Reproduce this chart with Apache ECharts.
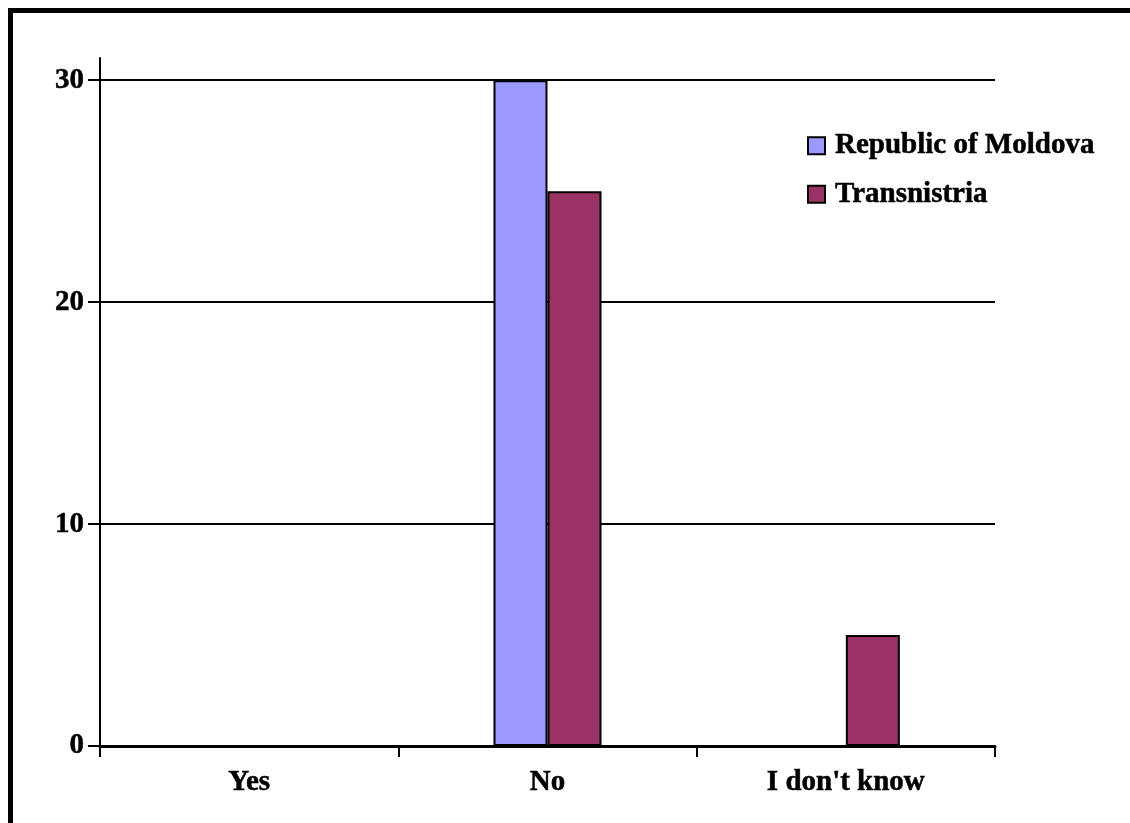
<!DOCTYPE html>
<html>
<head>
<meta charset="utf-8">
<script src="https://cdn.jsdelivr.net/npm/echarts@6/dist/echarts.min.js"></script>
<style>
html,body{margin:0;padding:0;background:#fff;}
#wrap{position:relative;width:1130px;height:823px;overflow:hidden;background:#fff;}
#frame{position:absolute;left:8px;top:8px;width:1200px;height:900px;border-top:5px solid #000;border-left:5px solid #000;box-sizing:border-box;pointer-events:none;}
#chart{position:absolute;left:0;top:0;width:1130px;height:823px;}
</style>
</head>
<body>
<div id="wrap"><div id="chart"></div><div id="frame"></div></div>
<script>
var categories = ["Yes", "No", "I don't know"];
var moldova = [0, 30, 0];
var transnistria = [0, 25, 5];
var yTicks = [0, 10, 20, 30];

var font = "'Liberation Serif','Times New Roman',serif";
var txt = {fontFamily: font, fontWeight: 'bold', fontSize: 29, color: '#000', textBorderColor: '#000', textBorderWidth: 0.5};
var chart = echarts.init(document.getElementById('chart'), null, {renderer: 'canvas'});
chart.setOption({
  animation: false,
  backgroundColor: '#fff',
  grid: {left: 100, right: 135, top: 58, bottom: 77, containLabel: false},
  legend: {
    orient: 'vertical',
    left: 807,
    top: 131,
    padding: 0,
    itemWidth: 17,
    itemHeight: 17,
    itemGap: 19,
    icon: 'rect',
    textStyle: Object.assign({}, txt, {lineHeight: 29, padding: [0, 0, 0, 5]}),
    itemStyle: {borderColor: '#000', borderWidth: 2},
    data: ['Republic of Moldova', 'Transnistria']
  },
  xAxis: {
    type: 'category',
    data: categories,
    axisLine: {lineStyle: {color: '#000', width: 3}},
    axisTick: {show: true, alignWithLabel: false, length: 11, lineStyle: {color: '#000', width: 2}},
    axisLabel: Object.assign({}, txt, {margin: 22}),
    splitLine: {show: false}
  },
  yAxis: {
    type: 'value',
    min: 0,
    max: 31,
    interval: 10,
    axisLine: {show: true, lineStyle: {color: '#000', width: 2}},
    axisTick: {show: true, length: 12, customValues: yTicks, lineStyle: {color: '#000', width: 2}},
    axisLabel: Object.assign({}, txt, {margin: 16, customValues: yTicks}),
    splitLine: {show: true, lineStyle: {color: '#000', width: 2}}
  },
  series: [
    {
      name: 'Republic of Moldova',
      type: 'bar',
      data: moldova,
      barWidth: 54,
      barGap: '0%',
      itemStyle: {color: '#9999FF', borderColor: '#000', borderWidth: 2}
    },
    {
      name: 'Transnistria',
      type: 'bar',
      data: transnistria,
      barWidth: 54,
      barGap: '0%',
      itemStyle: {color: '#993366', borderColor: '#000', borderWidth: 2}
    }
  ]
});
</script>
</body>
</html>
